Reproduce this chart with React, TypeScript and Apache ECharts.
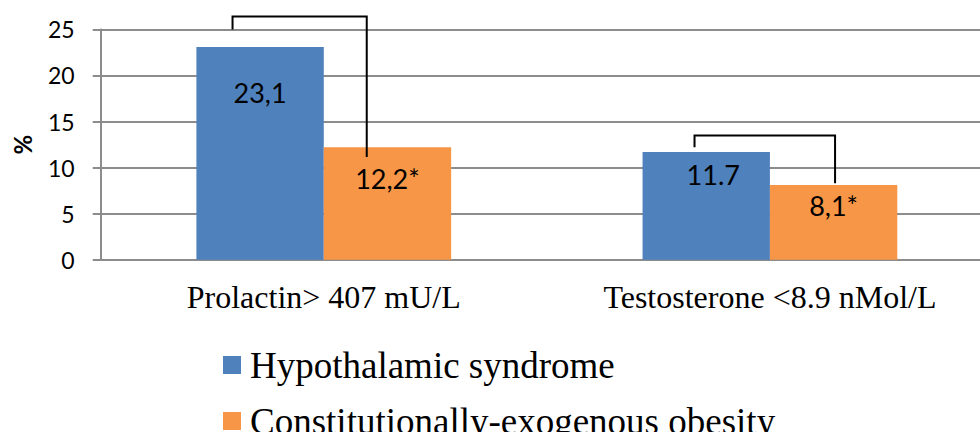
import React, { useEffect, useRef } from "react";
import * as echarts from "echarts";

const categories = ["Prolactin> 407 mU/L", "Testosterone <8.9 nMol/L"];
const seriesNames = ["Hypothalamic syndrome", "Constitutionally-exogenous obesity"];
const hypothalamic = [23.1, 11.7];
const constitutional = [12.2, 8.1];
const hypothalamicLabels = ["23,1", "11.7"];
const constitutionalLabels = ["12,2*", "8,1*"];
const yTicks = [0, 5, 10, 15, 20, 25];
// significance brackets: [category, left offset, right offset (fraction of band), left end, top, right end]
const brackets = [
  [0, -0.2045, 0.0963, 25, 26.4, 11.15],
  [1, -0.169, 0.146, 12.2, 13.47, 8.3],
];

export default function App() {
  const ref = useRef<HTMLDivElement>(null);
  useEffect(() => {
    if (!ref.current) return;
    const chart = echarts.init(ref.current, undefined, { renderer: "svg" });
    const labelFont = "Lato, 'Open Sans', sans-serif";
    const serif = "'Liberation Serif', 'Times New Roman', serif";
    const blueLabelPos = [
      { dy: 46, dx: 0 },
      { dy: 23, dx: 7 },
    ];
    const orangeLabelPos = [
      { dy: 31, dx: 0 },
      { dy: 20, dx: 0 },
    ];
    const mkData = (vals: number[], labels: string[], pos: { dy: number; dx: number }[]) =>
      vals.map((v, i) => ({
        value: v,
        label: {
          show: true,
          position: ["50%", pos[i].dy],
          offset: [pos[i].dx, 0],
          align: "center",
          verticalAlign: "middle",
          formatter: labels[i],
          fontFamily: labelFont,
          fontSize: 27,
          color: "#000",
        },
      }));
    const legendBase = {
      orient: "vertical",
      left: 218,
      itemWidth: 18,
      itemHeight: 18,
      icon: "rect",
      textStyle: {
        fontFamily: serif,
        fontSize: 37,
        lineHeight: 40,
        color: "#000",
        padding: [0, 0, 0, 4],
      },
    };

    chart.setOption({
      animation: false,
      backgroundColor: "#fff",
      grid: {
        left: 100.7,
        top: 29.4,
        right: -13,
        height: 230.3,
        containLabel: false,
        outerBoundsMode: "none",
      },
      legend: [
        { ...legendBase, top: 340, data: [seriesNames[0]] },
        { ...legendBase, top: 396, data: [seriesNames[1]] },
      ],
      xAxis: {
        type: "category",
        data: categories,
        axisLine: { show: true, lineStyle: { color: "#8c8c8c", width: 2 } },
        axisTick: { show: false },
        axisLabel: {
          fontFamily: serif,
          fontSize: 32,
          color: "#000",
          margin: 21,
        },
      },
      yAxis: {
        type: "value",
        min: yTicks[0],
        max: yTicks[yTicks.length - 1],
        interval: 5,
        name: "%",
        nameLocation: "middle",
        nameRotate: 90,
        nameGap: 66,
        nameTextStyle: { fontFamily: labelFont, fontSize: 24, fontWeight: "bold", color: "#000" },
        axisLine: { show: true, lineStyle: { color: "#8c8c8c", width: 2 } },
        axisTick: { show: true, length: 8, lineStyle: { color: "#8c8c8c", width: 2 } },
        axisLabel: { fontFamily: labelFont, fontSize: 23, color: "#000", margin: 26 },
        splitLine: { show: true, lineStyle: { color: "#8c8c8c", width: 2 } },
      },
      series: [
        {
          name: seriesNames[0],
          type: "bar",
          barWidth: "28.55%",
          barGap: "0%",
          itemStyle: { color: "#4F81BD" },
          data: mkData(hypothalamic, hypothalamicLabels, blueLabelPos),
        },
        {
          name: seriesNames[1],
          type: "bar",
          barWidth: "28.55%",
          barGap: "0%",
          itemStyle: { color: "#F79646" },
          data: mkData(constitutional, constitutionalLabels, orangeLabelPos),
        },
        {
          type: "custom",
          clip: false,
          z: 10,
          silent: true,
          encode: { x: 0, y: 4 },
          data: brackets,
          renderItem: (params: any, api: any) => {
            const cat = api.value(0);
            const band = api.size([1, 0])[0];
            const cx = api.coord([cat, 0])[0];
            const lx = cx + api.value(1) * band;
            const rx = cx + api.value(2) * band;
            const yl = api.coord([cat, api.value(3)])[1];
            const yt = api.coord([cat, api.value(4)])[1];
            const yr = api.coord([cat, api.value(5)])[1];
            return {
              type: "polyline",
              shape: { points: [[lx, yl], [lx, yt], [rx, yt], [rx, yr]] },
              style: { stroke: "#000", lineWidth: 2, fill: "none" },
            };
          },
        },
      ],
    });
    return () => chart.dispose();
  }, []);
  return (
    <div
      ref={ref}
      style={{ position: "absolute", left: 0, top: 0, width: 980, height: 432, background: "#fff" }}
    />
  );
}
